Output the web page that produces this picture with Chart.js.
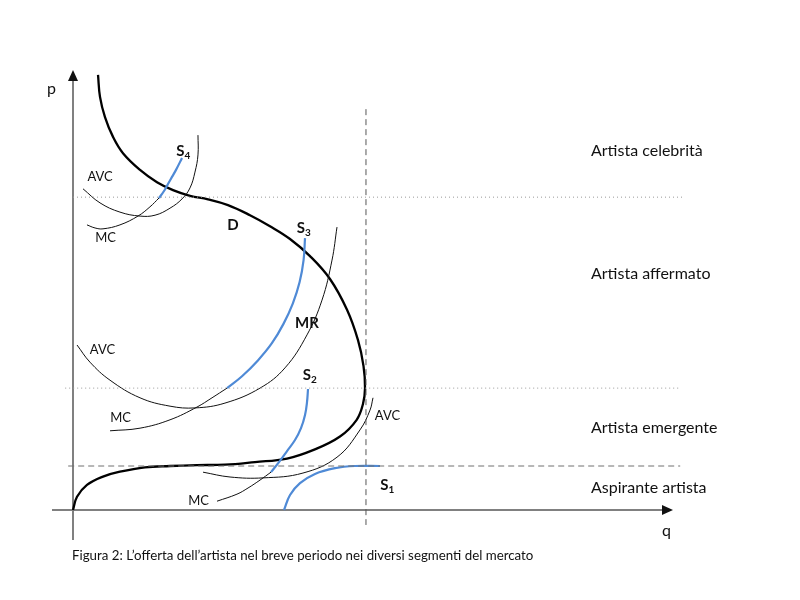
<!DOCTYPE html>
<html>
<head>
<meta charset="utf-8">
<script src="https://cdn.jsdelivr.net/npm/chart.js@4.4.1/dist/chart.umd.min.js"></script>
<style>
  body { margin: 0; background: #fff; }
  #wrap { width: 800px; height: 600px; position: relative; }
</style>
</head>
<body>
<div id="wrap"><canvas id="myChart"></canvas></div>
<script>
// curve values (q = quantity, p = price, both 0..100)
const dQ = [4.17, 4.5, 5.33, 6.67, 8.33, 11.17, 14.0, 16.67, 19.5, 22.5, 25.83, 29.5, 32.83, 36.17, 39.5, 42.83, 45.67, 47.5, 48.42, 48.67, 48.33, 47.28, 44.5, 40, 35.67, 30.33, 25.33, 20.67, 16.17, 12, 7.83, 5, 2.33, 0.67, 0];
const dP = [98.9, 93.9, 89.3, 84.8, 81.1, 77.3, 74.5, 72.7, 71.4, 70.6, 69.3, 67.0, 64.5, 61.6, 57.7, 52.5, 45.5, 38.6, 32.7, 27.7, 24.1, 20.5, 16.7, 13.6, 11.7, 10.9, 10.3, 10.2, 10.0, 9.7, 8.7, 7.6, 5.7, 3.0, 0];

// celebrity segment
const s4Q = [14.33, 15.17, 15.83, 16.5, 17.17, 18.17];
const s4P = [70.9, 72.5, 74.1, 75.7, 77.3, 80.0];
const mc4Q = [2.33, 3.67, 5, 7.83, 10.83, 12.83, 14.33];
const mc4P = [64.8, 64.1, 63.9, 64.8, 66.8, 68.9, 70.9];
const avc4Q = [1.67, 4.5, 7.83, 11.17, 13.67, 16.17, 18.17, 19.5, 20.33, 20.83, 20.83];
const avc4P = [73.0, 69.8, 67.7, 66.8, 67.0, 68.6, 70.7, 73.2, 76.8, 80.7, 85.2];

// established segment
const s3Q = [25.67, 28.17, 30.82, 33.15, 35.08, 36.63, 37.77, 38.43, 38.67];
const s3P = [27.7, 30.4, 34.0, 37.9, 42.3, 46.9, 51.8, 56.8, 61.8];
const mc3Q = [6.17, 11.17, 16.17, 20.67, 23.17, 25.67];
const mc3P = [18.0, 18.6, 20.5, 23.4, 25.5, 27.7];
const avc3Q = [0.67, 2.83, 6.17, 11.17, 16.17, 20.33, 25.33, 31.17, 35.33, 39, 41.5, 43.17, 44];
const avc3P = [37.5, 33.6, 29.5, 25.5, 23.6, 23.2, 24.3, 27.7, 32.3, 39.8, 47.7, 56.8, 64.3];

// emerging segment
const s2Q = [39.17, 39.0, 38.67, 38.0, 37.0, 35.67, 34.33, 33.0];
const s2P = [27.5, 24.5, 21.6, 18.6, 15.9, 13.4, 10.9, 8.6];
const mc2Q = [33, 31.17, 29.17, 27.33, 24];
const mc2P = [8.6, 6.8, 5.0, 3.6, 2.0];
const avc2Q = [21.67, 26.17, 31.67, 38.33, 44, 47.83, 49.5, 50];
const avc2P = [8.6, 7.5, 7.3, 8.4, 12.0, 18.2, 22.7, 25.5];

// aspiring segment
const s1Q = [35.17, 36.17, 37.83, 40.33, 43.67, 47, 51.17];
const s1P = [0, 3.4, 6.1, 8.2, 9.5, 10.0, 10.0];

// segment borders
const celebP = 71.1;
const emergP = 27.7;
const aspirP = 10.0;
const capQ = 48.83;

const segmentNames = ['Artista celebrità', 'Artista affermato', 'Artista emergente', 'Aspirante artista'];
const segmentP = [80.5, 52.5, 17.5, 3.8];

const caption = 'Figura 2: L\u2019offerta dell\u2019artista nel breve periodo nei diversi segmenti del mercato';

const blue = '#4f8ad6';

function pts(qs, ps) {
    return qs.map((q, i) => ({ x: q, y: ps[i] }));
}

function curve(qs, ps, color, width) {
    return {
        data: pts(qs, ps),
        showLine: true,
        borderColor: color,
        borderWidth: width,
        pointRadius: 0,
        tension: 0.4,
        fill: false,
        clip: false
    };
}

function guide(data, color, dash) {
    return {
        data: data,
        showLine: true,
        borderColor: color,
        borderWidth: 1,
        borderDash: dash,
        pointRadius: 0,
        tension: 0,
        clip: false
    };
}

// text labels: [text, subscript, q, p, bold]
const marks = [
    ['S', '4', 17.2, 80.5, true],
    ['AVC', '', 2.4, 74.8, false],
    ['MC', '', 3.7, 60.9, false],
    ['D', '', 25.7, 63.6, true],
    ['S', '3', 37.3, 63.0, true],
    ['MR', '', 37.0, 41.4, true],
    ['AVC', '', 2.8, 35.5, false],
    ['MC', '', 6.2, 20.0, false],
    ['S', '2', 38.3, 29.5, true],
    ['AVC', '', 50.3, 20.4, false],
    ['MC', '', 19.2, 1.2, false],
    ['S', '1', 51.2, 4.5, true]
];

const drawing = {
    id: 'drawing',
    beforeDatasetsDraw(chart) {
        const ctx = chart.ctx;
        const xs = chart.scales.x, ys = chart.scales.y;
        const x0 = xs.getPixelForValue(0), y0 = ys.getPixelForValue(0);
        const xEnd = xs.getPixelForValue(100), yEnd = ys.getPixelForValue(100);
        ctx.save();
        ctx.strokeStyle = '#808080';
        ctx.lineWidth = 2;
        ctx.beginPath();
        ctx.moveTo(xs.getPixelForValue(-3.5), y0);
        ctx.lineTo(xEnd - 8, y0);
        ctx.moveTo(x0, ys.getPixelForValue(-6.8));
        ctx.lineTo(x0, yEnd + 8);
        ctx.stroke();
        // arrow heads
        ctx.fillStyle = '#111';
        ctx.beginPath();
        ctx.moveTo(xEnd, y0);
        ctx.lineTo(xEnd - 11, y0 - 5);
        ctx.lineTo(xEnd - 11, y0 + 5);
        ctx.closePath();
        ctx.fill();
        ctx.beginPath();
        ctx.moveTo(x0, yEnd);
        ctx.lineTo(x0 - 5, yEnd + 11);
        ctx.lineTo(x0 + 5, yEnd + 11);
        ctx.closePath();
        ctx.fill();
        ctx.restore();
    },
    afterDatasetsDraw(chart) {
        const ctx = chart.ctx;
        const xs = chart.scales.x, ys = chart.scales.y;
        ctx.save();
        ctx.fillStyle = '#111';
        ctx.textBaseline = 'alphabetic';
        ctx.font = '16px Lato';
        ctx.fillText('p', 47, 94);
        ctx.fillText('q', 662, 536);

        marks.forEach(m => {
            const x = xs.getPixelForValue(m[2]);
            const y = ys.getPixelForValue(m[3]);
            ctx.font = m[4] ? 'bold 15px Lato' : '13px Lato';
            ctx.fillText(m[0], x, y);
            if (m[1]) {
                const w = ctx.measureText(m[0]).width;
                ctx.font = 'bold 10px Lato';
                ctx.fillText(m[1], x + w, y + 3);
            }
        });

        ctx.font = '16px Lato';
        segmentNames.forEach((name, i) => {
            ctx.fillText(name, 591, ys.getPixelForValue(segmentP[i]));
        });

        ctx.font = '13.3px Lato';
        ctx.fillText(caption, 72, 560);
        ctx.restore();
    }
};

const config = {
    type: 'scatter',
    data: {
        datasets: [
            guide([{ x: 0, y: celebP }, { x: 101.7, y: celebP }], '#9a9a9a', [1, 3]),
            guide([{ x: -1.3, y: emergP }, { x: 101.2, y: emergP }], '#9a9a9a', [1, 3]),
            guide([{ x: -0.8, y: aspirP }, { x: 101.2, y: aspirP }], '#707070', [6, 4]),
            guide([{ x: capQ, y: 91.1 }, { x: capQ, y: -3.4 }], '#555', [6, 4]),
            curve(mc4Q, mc4P, '#111', 1),
            curve(avc4Q, avc4P, '#111', 1),
            curve(mc3Q, mc3P, '#111', 1),
            curve(avc3Q, avc3P, '#111', 1),
            curve(mc2Q, mc2P, '#111', 1),
            curve(avc2Q, avc2P, '#111', 1),
            curve(s4Q, s4P, blue, 2.2),
            curve(s3Q, s3P, blue, 2.2),
            curve(s2Q, s2P, blue, 2.2),
            curve(s1Q, s1P, blue, 2.2),
            curve(dQ, dP, '#000', 2.3)
        ]
    },
    options: {
        responsive: true,
        maintainAspectRatio: false,
        animation: false,
        layout: { padding: { left: 73, right: 127, top: 70, bottom: 90 } },
        plugins: { legend: { display: false }, tooltip: { enabled: false } },
        scales: {
            x: { type: 'linear', min: 0, max: 100, display: false },
            y: { type: 'linear', min: 0, max: 100, display: false }
        }
    },
    plugins: [drawing]
};

const myChart = new Chart(document.getElementById('myChart'), config);
</script>
</body>
</html>
